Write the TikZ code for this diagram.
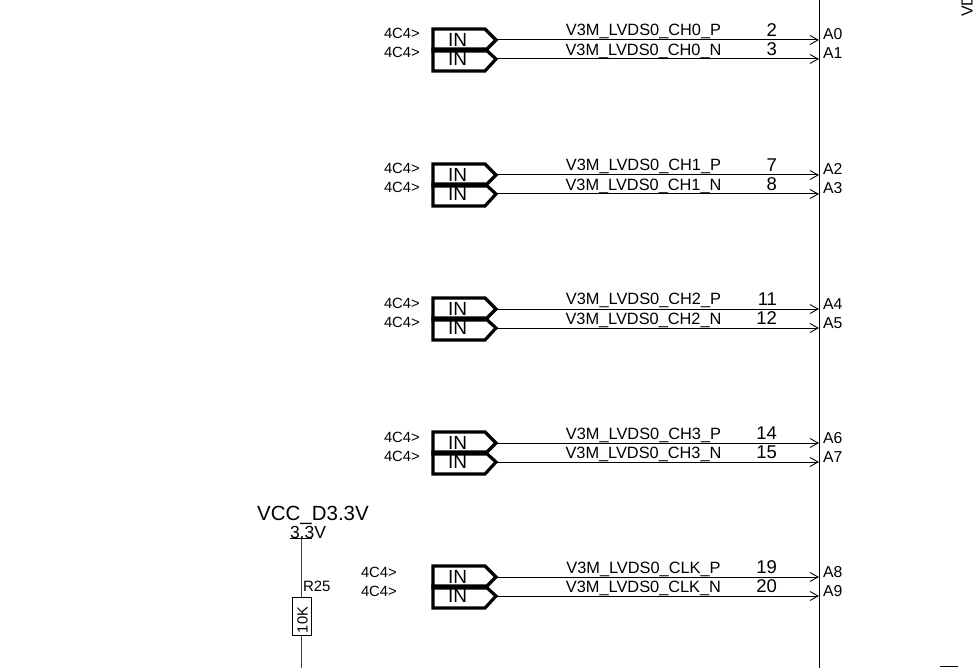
\documentclass[tikz,border=0pt]{standalone}
\usepackage{fontspec}
\setmainfont{Liberation Sans}
\newcommand{\fs}[1]{\fontsize{#1}{#1}\selectfont}
\tikzset{
  txt/.style={inner sep=0pt,outer sep=0pt,anchor=base},
  wire/.style={draw=black,line width=1pt},
  portbox/.style={draw=black,line width=3.2pt,line join=miter},
  chev/.style={draw=black,line width=0.9pt},
  pnum/.style={txt,anchor=base east,font=\fs{18.5}},
  pinname/.style={txt,anchor=base west,font=\fs{15.8}},
  netname/.style={txt,font=\fs{16.35}},
  sheetref/.style={txt,anchor=base west,font=\fs{14.8}},
  intext/.style={txt,font=\fs{19}},
}
\begin{document}
\begin{tikzpicture}[x=1pt,y=-1pt]
\useasboundingbox (0,0) rectangle (974,668);
% bus
\coordinate (bustop) at (819,0);
\coordinate (busbot) at (819,668);
\draw[wire] (bustop) -- (busbot);
% port groups
\foreach \i/\y/\lx/\ly/\net/\pa/\pb/\na/\nb in {
  1/40/384/-1/CH0/2/3/A0/A1,
  2/175/384/-1/CH1/7/8/A2/A3,
  3/309/384/-1/CH2/11/12/A4/A5,
  4/443/384/-1/CH3/14/15/A6/A7,
  5/577/361/0/CLK/19/20/A8/A9}{
  \pgfmathsetmacro{\yb}{\y+19}
  \draw[portbox] (433,\y-11) -- (485,\y-11) -- (496,\y) -- (485,\y+11) -- (433,\y+11) -- cycle;
  \draw[portbox] (433,\yb-10) -- (485,\yb-10) -- (496,\yb) -- (485,\yb+12) -- (433,\yb+12) -- cycle;
  \coordinate (pa\i) at (496,\y);
  \coordinate (pb\i) at (496,\yb);
  \coordinate (ea\i) at (818,\y);
  \coordinate (eb\i) at (818,\yb);
  \draw[wire] (pa\i) -- (ea\i);
  \draw[wire] (pb\i) -- (eb\i);
  \draw[chev] (810,\y-4.5) -- (ea\i) -- (810,\y+4.5);
  \draw[chev] (810,\yb-4.5) -- (eb\i) -- (810,\yb+4.5);
  \node[intext] (ina\i) at (457.5,\y+6.5) {IN};
  \node[intext] (inb\i) at (457.5,\yb+6.5) {IN};
  \node[sheetref] (refa\i) at (\lx,\y+\ly) {4C4>};
  \node[sheetref] (refb\i) at (\lx,\yb+\ly) {4C4>};
  \node[netname] (neta\i) at (643.5,\y-4) {V3M\_LVDS0\_\net\_P};
  \node[netname] (netb\i) at (643.5,\yb-3.5) {V3M\_LVDS0\_\net\_N};
  \node[pnum] (numa\i) at (777,\y-3.5) {\pa};
  \node[pnum] (numb\i) at (777,\yb-3.5) {\pb};
  \node[pinname] (pina\i) at (823,\y) {\na};
  \node[pinname] (pinb\i) at (823,\yb) {\nb};
}
% power and resistor
\node[txt,font=\fs{20.5}] (vcc) at (313,520) {VCC\_D3.3V};
\node[txt,font=\fs{17.5}] (vlabel) at (308,538) {3.3V};
\coordinate (vbarl) at (290,538.5);
\coordinate (vbarr) at (312,538.5);
\coordinate (vtap) at (301,538.5);
\coordinate (rend) at (301,668);
\draw[wire] (vbarl) -- (vbarr);
\node[draw=black,line width=1pt,fill=white,minimum width=19pt,minimum height=38pt,inner sep=0pt] (r25) at (301.5,616) {};
\draw[wire,draw=black!75] (vtap) -- (vtap |- r25.north);
\draw[wire,draw=black!75] (vtap |- r25.south) -- (rend);
\node[txt,anchor=base west,font=\fs{15}] (rname) at (303,591) {R25};
\node[txt,anchor=base,font=\fs{14.7},rotate=90] (rval) at (307.5,620) {10K};
% fragments at the right edge
\node[txt,anchor=base west,font=\fs{16},rotate=90] (vd) at (972.5,17) {VD};
\coordinate (barl) at (940,666.5);
\coordinate (barr) at (958,666.5);
\draw[black,line width=1.2pt] (barl) -- (barr);
\end{tikzpicture}
\end{document}
